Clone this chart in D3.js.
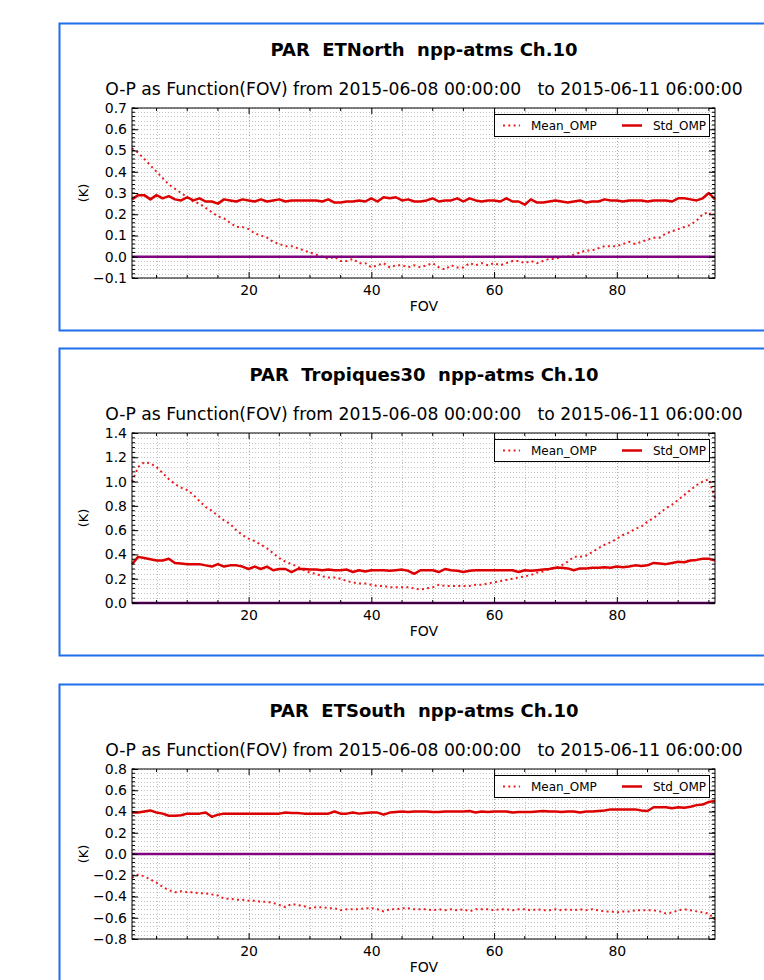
<!DOCTYPE html>
<html>
<head>
<meta charset="utf-8">
<script src="https://cdn.jsdelivr.net/npm/d3@7"></script>
<style>
  body { margin: 0; background: #fff; }
  text { font-family: "DejaVu Sans", sans-serif; fill: #000; }
</style>
</head>
<body>
<div id="chart"></div>
<script>
const width = 764;
const height = 980;

// FOV positions along the scan (categories)
const fov = d3.range(1, 97);

const subtitle = "O-P as Function(FOV) from 2015-06-08 00:00:00   to 2015-06-11 06:00:00";
const legendNames = ["Mean_OMP", "Std_OMP"];
const xTicks = [20, 40, 60, 80];

// ETNorth
const northMean = [
  0.51, 0.49, 0.46, 0.43, 0.40, 0.37, 0.34, 0.32, 0.30, 0.28,
  0.26, 0.25, 0.23, 0.21, 0.19, 0.18, 0.16, 0.14, 0.14, 0.13,
  0.11, 0.10, 0.09, 0.07, 0.06, 0.05, 0.05, 0.04, 0.03, 0.02,
  0.01, 0.00, -0.01, 0.00, -0.02, -0.02, -0.01, -0.03, -0.03, -0.05,
  -0.04, -0.03, -0.05, -0.04, -0.04, -0.05, -0.04, -0.05, -0.04, -0.03,
  -0.05, -0.06, -0.04, -0.05, -0.05, -0.03, -0.04, -0.03, -0.04, -0.03,
  -0.04, -0.03, -0.02, -0.02, -0.03, -0.02, -0.03, -0.02, -0.01, -0.01,
  0.00, 0.00, 0.01, 0.02, 0.03, 0.03, 0.04, 0.05, 0.05, 0.05,
  0.06, 0.07, 0.06, 0.07, 0.08, 0.09, 0.09, 0.11, 0.12, 0.13,
  0.14, 0.15, 0.17, 0.20, 0.21, 0.17
];
const northStd = [
  0.27, 0.29, 0.29, 0.27, 0.29, 0.275, 0.285, 0.27, 0.265, 0.28,
  0.265, 0.275, 0.26, 0.26, 0.25, 0.27, 0.265, 0.26, 0.27, 0.265,
  0.26, 0.27, 0.26, 0.265, 0.27, 0.26, 0.265, 0.265, 0.265, 0.265,
  0.265, 0.26, 0.27, 0.255, 0.255, 0.26, 0.26, 0.265, 0.26, 0.275,
  0.26, 0.28, 0.275, 0.28, 0.265, 0.27, 0.26, 0.26, 0.265, 0.275,
  0.26, 0.265, 0.265, 0.275, 0.26, 0.275, 0.265, 0.26, 0.265, 0.265,
  0.26, 0.275, 0.26, 0.26, 0.245, 0.27, 0.255, 0.255, 0.26, 0.265,
  0.26, 0.255, 0.26, 0.265, 0.255, 0.26, 0.26, 0.27, 0.265, 0.265,
  0.26, 0.265, 0.265, 0.265, 0.26, 0.265, 0.265, 0.265, 0.26, 0.275,
  0.275, 0.27, 0.265, 0.275, 0.30, 0.27
];

// Tropiques30
const tropMean = [
  1.00, 1.12, 1.16, 1.15, 1.12, 1.07, 1.02, 0.98, 0.95, 0.93,
  0.89, 0.84, 0.79, 0.76, 0.72, 0.68, 0.65, 0.60, 0.56, 0.53,
  0.51, 0.48, 0.45, 0.41, 0.37, 0.34, 0.32, 0.30, 0.27, 0.25,
  0.24, 0.22, 0.21, 0.21, 0.20, 0.18, 0.17, 0.16, 0.16, 0.15,
  0.14, 0.14, 0.13, 0.13, 0.13, 0.13, 0.12, 0.11, 0.12, 0.13,
  0.15, 0.14, 0.14, 0.14, 0.14, 0.14, 0.15, 0.15, 0.16, 0.17,
  0.18, 0.19, 0.20, 0.21, 0.22, 0.23, 0.25, 0.26, 0.28, 0.29,
  0.31, 0.34, 0.38, 0.38, 0.39, 0.42, 0.45, 0.48, 0.50, 0.53,
  0.56, 0.58, 0.61, 0.63, 0.67, 0.70, 0.74, 0.78, 0.81, 0.85,
  0.89, 0.93, 0.97, 1.00, 1.02, 0.86
];
const tropStd = [
  0.32, 0.38, 0.37, 0.36, 0.35, 0.35, 0.365, 0.33, 0.325, 0.32,
  0.32, 0.32, 0.31, 0.30, 0.32, 0.30, 0.31, 0.31, 0.30, 0.28,
  0.30, 0.28, 0.30, 0.27, 0.28, 0.28, 0.255, 0.28, 0.28, 0.275,
  0.275, 0.27, 0.275, 0.27, 0.27, 0.275, 0.255, 0.27, 0.26, 0.27,
  0.27, 0.27, 0.265, 0.27, 0.275, 0.265, 0.24, 0.27, 0.27, 0.27,
  0.255, 0.28, 0.27, 0.265, 0.255, 0.265, 0.27, 0.27, 0.27, 0.27,
  0.27, 0.27, 0.27, 0.255, 0.27, 0.265, 0.27, 0.275, 0.28, 0.29,
  0.29, 0.285, 0.27, 0.285, 0.285, 0.29, 0.29, 0.295, 0.29, 0.30,
  0.295, 0.30, 0.31, 0.305, 0.31, 0.33, 0.325, 0.32, 0.33, 0.34,
  0.335, 0.35, 0.355, 0.365, 0.365, 0.35
];

// ETSouth
const southMean = [
  -0.225, -0.195, -0.21, -0.24, -0.27, -0.31, -0.34, -0.36, -0.35, -0.36,
  -0.36, -0.37, -0.37, -0.38, -0.39, -0.42, -0.42, -0.43, -0.43, -0.44,
  -0.44, -0.45, -0.45, -0.46, -0.48, -0.50, -0.47, -0.48, -0.49, -0.51,
  -0.50, -0.50, -0.51, -0.51, -0.53, -0.52, -0.52, -0.52, -0.51, -0.51,
  -0.52, -0.54, -0.52, -0.52, -0.51, -0.51, -0.52, -0.52, -0.52, -0.53,
  -0.52, -0.53, -0.52, -0.53, -0.52, -0.54, -0.52, -0.52, -0.52, -0.53,
  -0.52, -0.52, -0.53, -0.52, -0.52, -0.53, -0.52, -0.53, -0.53, -0.52,
  -0.53, -0.52, -0.53, -0.52, -0.53, -0.52, -0.53, -0.54, -0.54, -0.55,
  -0.54, -0.54, -0.53, -0.53, -0.53, -0.53, -0.54, -0.56, -0.55, -0.53,
  -0.52, -0.53, -0.54, -0.55, -0.56, -0.62
];
const southStd = [
  0.39, 0.39, 0.40, 0.41, 0.39, 0.38, 0.36, 0.36, 0.365, 0.38,
  0.38, 0.38, 0.39, 0.35, 0.37, 0.38, 0.38, 0.38, 0.38, 0.38,
  0.38, 0.38, 0.38, 0.38, 0.38, 0.39, 0.385, 0.385, 0.38, 0.38,
  0.38, 0.38, 0.38, 0.40, 0.38, 0.38, 0.39, 0.38, 0.385, 0.39,
  0.39, 0.37, 0.39, 0.395, 0.40, 0.395, 0.40, 0.40, 0.40, 0.395,
  0.395, 0.40, 0.40, 0.40, 0.40, 0.405, 0.39, 0.40, 0.395, 0.40,
  0.40, 0.40, 0.39, 0.395, 0.395, 0.395, 0.40, 0.405, 0.40, 0.40,
  0.395, 0.40, 0.40, 0.39, 0.40, 0.40, 0.405, 0.41, 0.42, 0.42,
  0.42, 0.42, 0.42, 0.41, 0.405, 0.44, 0.44, 0.44, 0.43, 0.44,
  0.435, 0.445, 0.46, 0.465, 0.49, 0.50
];

const northTicks = [-0.1, 0.0, 0.1, 0.2, 0.3, 0.4, 0.5, 0.6, 0.7];
const tropTicks = [0.0, 0.2, 0.4, 0.6, 0.8, 1.0, 1.2, 1.4];
const southTicks = [-0.8, -0.6, -0.4, -0.2, 0.0, 0.2, 0.4, 0.6, 0.8];

const panels = [
  { title: "PAR  ETNorth  npp-atms Ch.10", mean: northMean, std: northStd, ticks: northTicks, minor: 0.02, top: 23 },
  { title: "PAR  Tropiques30  npp-atms Ch.10", mean: tropMean, std: tropStd, ticks: tropTicks, minor: 0.04, top: 348 },
  { title: "PAR  ETSouth  npp-atms Ch.10", mean: southMean, std: southStd, ticks: southTicks, minor: 0.04, top: 684 }
];

const plotLeft = 132, plotRight = 715, plotHeight = 170;
const red = "#dd0000";

const svg = d3.select("#chart")
  .append("svg")
  .attr("width", width)
  .attr("height", height);

const x = d3.scaleLinear().domain([1, 96]).range([plotLeft, plotRight]);

panels.forEach(p => {
  // blue frame round each figure
  svg.append("rect")
    .attr("x", 59.5).attr("y", p.top + 0.5)
    .attr("width", 760).attr("height", 307)
    .attr("fill", "none")
    .attr("stroke", "#1f6fea")
    .attr("stroke-width", 2);

  svg.append("text")
    .attr("x", 424).attr("y", p.top + 33)
    .attr("text-anchor", "middle")
    .style("font-size", "18px")
    .style("font-weight", "bold")
    .style("white-space", "pre")
    .text(p.title);

  // sits just clear of the top y tick label
  svg.append("text")
    .attr("x", 424).attr("y", p.top + 72)
    .attr("text-anchor", "middle")
    .style("font-size", "17.2px")
    .style("white-space", "pre")
    .text(subtitle);

  const plotTop = p.top + 85;
  const plotBottom = plotTop + plotHeight;
  const y = d3.scaleLinear()
    .domain([p.ticks[0], p.ticks[p.ticks.length - 1]])
    .range([plotBottom, plotTop]);

  const g = svg.append("g");

  // dotted grid: every 5 FOV, every minor step in y
  const xMinor = d3.range(5, 96, 5);
  const yMinor = d3.range(Math.round((y.domain()[1] - y.domain()[0]) / p.minor) + 1)
    .map(i => y.domain()[0] + i * p.minor);

  g.selectAll(".vgrid")
    .data(xMinor)
    .enter().append("line")
    .attr("x1", d => Math.round(x(d)) + 0.5).attr("x2", d => Math.round(x(d)) + 0.5)
    .attr("y1", plotTop).attr("y2", plotBottom)
    .attr("stroke", d => d % 20 === 0 ? "#aaa" : "#c4c4c4")
    .attr("stroke-width", 1)
    .attr("stroke-dasharray", "1,2");

  g.selectAll(".hgrid")
    .data(yMinor)
    .enter().append("line")
    .attr("x1", plotLeft).attr("x2", plotRight)
    .attr("y1", d => Math.round(y(d)) + 0.5).attr("y2", d => Math.round(y(d)) + 0.5)
    .attr("stroke", "#c4c4c4")
    .attr("stroke-width", 1)
    .attr("stroke-dasharray", "1,2");

  const line = d3.line()
    .x((d, i) => x(fov[i]))
    .y(d => y(d));

  g.append("path")
    .datum(p.mean)
    .attr("d", line)
    .attr("fill", "none")
    .attr("stroke", "#ee1c1c")
    .attr("stroke-width", 2)
    .attr("stroke-dasharray", "2,3.3");

  g.append("path")
    .datum(p.std)
    .attr("d", line)
    .attr("fill", "none")
    .attr("stroke", red)
    .attr("stroke-width", 2.5)
    .attr("stroke-linejoin", "round");

  // zero line
  g.append("line")
    .attr("x1", plotLeft).attr("x2", plotRight)
    .attr("y1", y(0)).attr("y2", y(0))
    .attr("stroke", "#800080")
    .attr("stroke-width", 2.5);

  // axes with inward ticks
  const fmt = d3.format(".1f");
  g.append("g")
    .attr("transform", `translate(0,${plotBottom})`)
    .call(d3.axisBottom(x).tickValues(xTicks).tickSize(-6).tickPadding(7))
    .call(a => a.select(".domain").remove())
    .call(a => a.selectAll("text").style("font-size", "14px"));
  g.append("g")
    .attr("transform", `translate(0,${plotTop})`)
    .call(d3.axisTop(x).tickValues(xTicks).tickSize(-6).tickFormat(""))
    .call(a => a.select(".domain").remove());
  g.append("g")
    .attr("transform", `translate(${plotLeft},0)`)
    .call(d3.axisLeft(y).tickValues(p.ticks).tickSize(-6).tickPadding(5).tickFormat(fmt))
    .call(a => a.select(".domain").remove())
    .call(a => a.selectAll("text").style("font-size", "14px"));
  g.append("g")
    .attr("transform", `translate(${plotRight},0)`)
    .call(d3.axisRight(y).tickValues(p.ticks).tickSize(-6).tickFormat(""))
    .call(a => a.select(".domain").remove());

  // minor tick marks every 5 FOV and every minor y step
  const minorX = xMinor.filter(d => !xTicks.includes(d));
  [plotBottom, plotTop].forEach((yy, k) => {
    g.selectAll(null)
      .data(minorX)
      .enter().append("line")
      .attr("x1", d => x(d)).attr("x2", d => x(d))
      .attr("y1", yy).attr("y2", k === 0 ? yy - 3 : yy + 3)
      .attr("stroke", "#000");
  });
  [plotLeft, plotRight].forEach((xx, k) => {
    g.selectAll(null)
      .data(yMinor)
      .enter().append("line")
      .attr("x1", xx).attr("x2", k === 0 ? xx + 3 : xx - 3)
      .attr("y1", d => y(d)).attr("y2", d => y(d))
      .attr("stroke", "#000");
  });

  g.append("rect")
    .attr("x", plotLeft).attr("y", plotTop)
    .attr("width", plotRight - plotLeft).attr("height", plotHeight)
    .attr("fill", "none")
    .attr("stroke", "#000")
    .attr("stroke-width", 1);

  g.append("text")
    .attr("x", 424).attr("y", plotBottom + 33)
    .attr("text-anchor", "middle")
    .style("font-size", "14px")
    .text("FOV");

  g.append("text")
    .attr("transform", `translate(88,${(plotTop + plotBottom) / 2}) rotate(-90)`)
    .attr("text-anchor", "middle")
    .style("font-size", "13px")
    .text("(K)");

  // legend
  const lg = g.append("g").attr("transform", `translate(494,${plotTop + 6})`);
  lg.append("rect")
    .attr("x", 0.5).attr("y", 0.5)
    .attr("width", 215).attr("height", 22)
    .attr("fill", "#fff")
    .attr("stroke", "#000");
  lg.append("line")
    .attr("x1", 9).attr("x2", 26).attr("y1", 11.5).attr("y2", 11.5)
    .attr("stroke", "#ee1c1c").attr("stroke-width", 2)
    .attr("stroke-dasharray", "2,3.3");
  lg.append("text")
    .attr("x", 37).attr("y", 16)
    .style("font-size", "12px")
    .text(legendNames[0]);
  lg.append("line")
    .attr("x1", 128).attr("x2", 148).attr("y1", 11.5).attr("y2", 11.5)
    .attr("stroke", red).attr("stroke-width", 2.5);
  lg.append("text")
    .attr("x", 159).attr("y", 16)
    .style("font-size", "12px")
    .text(legendNames[1]);
});
</script>
</body>
</html>
